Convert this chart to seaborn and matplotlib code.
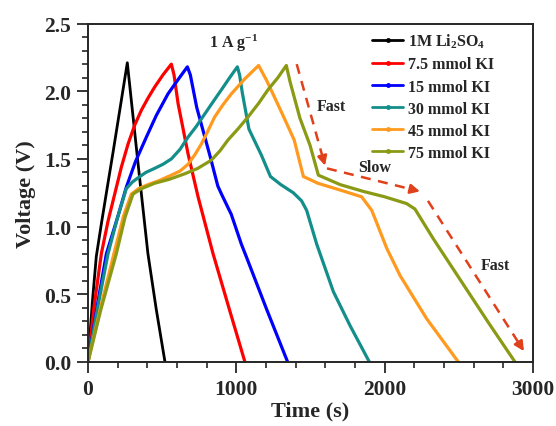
import numpy as np
import pandas as pd
import matplotlib
matplotlib.use("Agg")
import matplotlib.pyplot as plt
from matplotlib.lines import Line2D
from matplotlib.ticker import MultipleLocator
import seaborn as sns

# ---- data ----
labels = [r"1M Li$_2$SO$_4$", "7.5 mmol KI", "15 mmol KI", "30 mmol KI", "45 mmol KI", "75 mmol KI"]
colors = ["#000000", "#ff0000", "#0000ff", "#148e8a", "#ff9a1f", "#8a9a14"]

t_li = [0, 30, 56, 90, 130, 169, 220, 265, 300, 337, 404, 460, 519]
v_li = [0, 0.45, 0.78, 1.02, 1.29, 1.55, 1.90, 2.21, 1.85, 1.47, 0.80, 0.39, 0]

t_75 = [0, 40, 90, 135, 180, 225, 270, 315, 360, 405, 449, 505, 562, 580, 607, 674, 742, 843, 950, 1058]
v_75 = [0, 0.40, 0.80, 1.04, 1.24, 1.44, 1.61, 1.75, 1.86, 1.95, 2.03, 2.12, 2.20, 2.12, 1.91, 1.54,
        1.22, 0.80, 0.40, 0]

t_15 = [0, 60, 124, 200, 258, 320, 393, 460, 539, 610, 670, 690, 733, 823, 875, 900, 966, 1034,
        1070, 1204, 1346]
v_15 = [0, 0.40, 0.80, 1.07, 1.29, 1.48, 1.66, 1.82, 1.98, 2.09, 2.18, 2.12, 1.88, 1.52, 1.30, 1.24,
        1.09, 0.87, 0.77, 0.39, 0]

t_30 = [0, 65, 135, 200, 258, 300, 337, 390, 449, 505, 562, 620, 674, 730, 786, 842, 899, 955, 1007,
        1022, 1040, 1085, 1168, 1230, 1300, 1384, 1440, 1474, 1542, 1654, 1766, 1897]
v_30 = [0, 0.40, 0.80, 1.07, 1.28, 1.33, 1.36, 1.40, 1.43, 1.46, 1.50, 1.57, 1.66, 1.74, 1.83, 1.92,
        2.01, 2.10, 2.18, 2.12, 1.99, 1.72, 1.53, 1.37, 1.31, 1.25, 1.19, 1.12, 0.87, 0.52, 0.27, 0]

t_45 = [0, 80, 170, 240, 292, 340, 404, 480, 562, 620, 674, 720, 764, 810, 854, 910, 966, 1056, 1150,
        1204, 1294, 1390, 1452, 1550, 1700, 1845, 1913, 2014, 2103, 2283, 2497]
v_45 = [0, 0.38, 0.78, 1.08, 1.24, 1.28, 1.31, 1.34, 1.38, 1.41, 1.46, 1.53, 1.61, 1.71, 1.81, 1.90,
        1.98, 2.09, 2.19, 2.08, 1.87, 1.64, 1.37, 1.32, 1.27, 1.22, 1.12, 0.84, 0.64, 0.32, 0]

t_75k = [0, 85, 191, 250, 303, 360, 449, 550, 652, 740, 831, 890, 944, 1010, 1079, 1150, 1213, 1280,
         1337, 1362, 1429, 1497, 1553, 1700, 1856, 2000, 2148, 2204, 2328, 2508, 2700, 2879]
v_75k = [0, 0.38, 0.80, 1.07, 1.24, 1.28, 1.32, 1.35, 1.39, 1.43, 1.49, 1.56, 1.64, 1.72, 1.81, 1.91,
         2.01, 2.10, 2.19, 2.07, 1.80, 1.60, 1.38, 1.31, 1.26, 1.22, 1.17, 1.13, 0.91, 0.61, 0.29, 0]

series_t = [t_li, t_75, t_15, t_30, t_45, t_75k]
series_v = [v_li, v_75, v_15, v_30, v_45, v_75k]

x_ticks = [0, 1000, 2000, 3000]
y_ticks = [0.0, 0.5, 1.0, 1.5, 2.0, 2.5]

# ---- style ----
sns.set_style("ticks")
plt.rcParams["font.family"] = ["Liberation Serif", "DejaVu Serif"]
plt.rcParams["font.weight"] = "bold"
plt.rcParams["axes.labelweight"] = "bold"
plt.rcParams["mathtext.fontset"] = "custom"
plt.rcParams["mathtext.rm"] = "Liberation Serif:bold"
plt.rcParams["mathtext.bf"] = "Liberation Serif:bold"
plt.rcParams["mathtext.it"] = "Liberation Serif:bold:italic"
plt.rcParams["mathtext.default"] = "rm"

fig = plt.figure(figsize=(5.56, 4.27), dpi=100)
ax = fig.add_axes([88 / 556, 1 - 363 / 427, 445 / 556, 338.5 / 427])

for lab, col, tt, vv in zip(labels, colors, series_t, series_v):
    df = pd.DataFrame({"t": tt, "v": vv})
    sns.lineplot(data=df, x="t", y="v", color=col, lw=2.0 if col == "#000000" else 2.3,
                 estimator=None, sort=False, ax=ax, legend=False)

ax.set_xlim(0, 3000)
ax.set_ylim(0, 2.5)
ax.set_xticks(x_ticks)
ax.set_yticks(y_ticks)
ax.set_xticklabels([str(v) for v in x_ticks])
ax.set_yticklabels([f"{v:.1f}" for v in y_ticks])
ax.xaxis.set_minor_locator(MultipleLocator(200))
ax.yaxis.set_minor_locator(MultipleLocator(0.1))
ax.tick_params(which="major", direction="out", length=8, width=1.3, labelsize=15.5, pad=4)
ax.tick_params(which="minor", direction="out", length=4.5, width=1.2)
for sp in ax.spines.values():
    sp.set_linewidth(1.4)
    sp.set_visible(True)
ax.set_xlabel("Time (s)", fontsize=16, labelpad=1)
ax.set_ylabel("Voltage (V)", fontsize=16, labelpad=6)

handles = [Line2D([], [], color=c, lw=2.0, marker=".", markersize=5) for c in colors]
leg = ax.legend(handles, labels, loc="upper left", bbox_to_anchor=(0.614, 1.008), frameon=False,
                fontsize=11.5, handlelength=1.9, handletextpad=0.3, labelspacing=0.38,
                numpoints=1, borderaxespad=0.3)

ax.text(980, 2.36, r"1 A g$^{\mathbf{-1}}$", ha="center", va="center", fontsize=11.5)
ax.text(1638, 1.89, "Fast", ha="center", va="center", fontsize=11.5)
ax.text(1935, 1.44, "Slow", ha="center", va="center", fontsize=11.5)
ax.text(2744, 0.72, "Fast", ha="center", va="center", fontsize=11.5)

acol = "#e0401a"
arrows = [((1407, 2.20), (1598, 1.45)), ((1611, 1.43), (2238, 1.26)), ((2292, 1.19), (2939, 0.08))]
for (x0, y0), (x1, y1) in arrows:
    fx = x0 + (x1 - x0) * 0.9
    fy = y0 + (y1 - y0) * 0.9
    ax.plot([x0, fx], [y0, fy], color=acol, lw=1.8, ls=(0, (4, 3)))
    ax.annotate("", xy=(x1, y1), xytext=(fx, fy),
                arrowprops=dict(arrowstyle="-|>", color=acol, lw=1.8, mutation_scale=14,
                                shrinkA=0, shrinkB=0))

fig.savefig("out.png", dpi=100)
